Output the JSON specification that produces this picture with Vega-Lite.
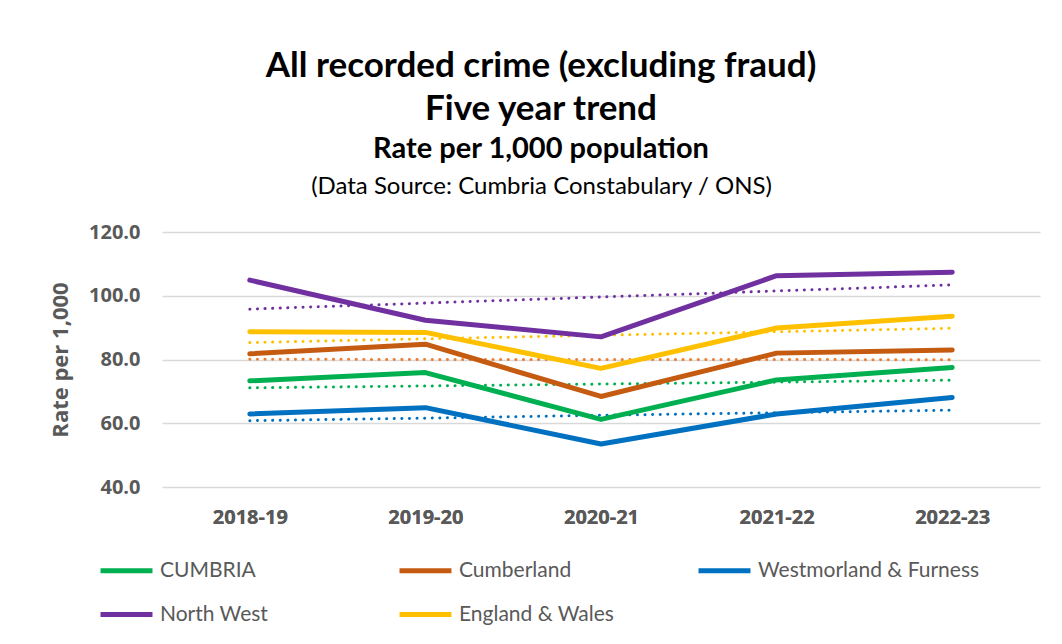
{
  "$schema": "https://vega.github.io/schema/vega-lite/v6.json",
  "autosize": "none",
  "width": 878,
  "height": 255,
  "padding": {"left": 162, "top": 232, "right": 22, "bottom": 157},
  "background": "white",
  "title": {
    "text": ["All recorded crime (excluding fraud)", "Five year trend"],
    "subtitle": "Rate per 1,000 population",
    "anchor": "middle",
    "frame": "group",
    "dx": -60,
    "font": "Lato",
    "fontSize": 35,
    "fontWeight": "bold",
    "color": "#000000",
    "lineHeight": 43,
    "subtitleFont": "Lato",
    "subtitleFontSize": 29,
    "subtitleFontWeight": "bold",
    "subtitleColor": "#000000",
    "subtitlePadding": 8,
    "offset": 10
  },
  "data": {
    "values": [
      {"year": "2018-19", "area": "CUMBRIA", "rate": 73.3, "trend": 71.1},
      {"year": "2019-20", "area": "CUMBRIA", "rate": 75.9, "trend": 71.7},
      {"year": "2020-21", "area": "CUMBRIA", "rate": 61.2, "trend": 72.3},
      {"year": "2021-22", "area": "CUMBRIA", "rate": 73.6, "trend": 72.9},
      {"year": "2022-23", "area": "CUMBRIA", "rate": 77.5, "trend": 73.5},
      {"year": "2018-19", "area": "Cumberland", "rate": 81.8, "trend": 80.1},
      {"year": "2019-20", "area": "Cumberland", "rate": 84.8, "trend": 80.0},
      {"year": "2020-21", "area": "Cumberland", "rate": 68.4, "trend": 80.0},
      {"year": "2021-22", "area": "Cumberland", "rate": 82.0, "trend": 80.0},
      {"year": "2022-23", "area": "Cumberland", "rate": 83.0, "trend": 79.9},
      {"year": "2018-19", "area": "Westmorland & Furness", "rate": 62.9, "trend": 60.8},
      {"year": "2019-20", "area": "Westmorland & Furness", "rate": 64.9, "trend": 61.6},
      {"year": "2020-21", "area": "Westmorland & Furness", "rate": 53.5, "trend": 62.5},
      {"year": "2021-22", "area": "Westmorland & Furness", "rate": 62.9, "trend": 63.3},
      {"year": "2022-23", "area": "Westmorland & Furness", "rate": 68.1, "trend": 64.1},
      {"year": "2018-19", "area": "North West", "rate": 104.9, "trend": 95.8},
      {"year": "2019-20", "area": "North West", "rate": 92.3, "trend": 97.7},
      {"year": "2020-21", "area": "North West", "rate": 87.1, "trend": 99.6},
      {"year": "2021-22", "area": "North West", "rate": 106.3, "trend": 101.5},
      {"year": "2022-23", "area": "North West", "rate": 107.4, "trend": 103.4},
      {"year": "2018-19", "area": "England & Wales", "rate": 88.7, "trend": 85.3},
      {"year": "2019-20", "area": "England & Wales", "rate": 88.5, "trend": 86.5},
      {"year": "2020-21", "area": "England & Wales", "rate": 77.2, "trend": 87.6},
      {"year": "2021-22", "area": "England & Wales", "rate": 89.9, "trend": 88.7},
      {"year": "2022-23", "area": "England & Wales", "rate": 93.6, "trend": 89.8}
    ]
  },
  "encoding": {
    "x": {
      "field": "year",
      "type": "ordinal",
      "scale": {"type": "point", "padding": 0.5},
      "axis": {
        "title": null,
        "labelAngle": 0,
        "labelFont": "Open Sans",
        "labelFontSize": 20,
        "labelFontWeight": "bold",
        "labelColor": "#595959",
        "labelPadding": 20,
        "domain": false,
        "ticks": false,
        "grid": false
      }
    }
  },
  "layer": [
    {
      "mark": {"type": "rule"},
      "encoding": {
        "x": {
          "field": "year",
          "type": "ordinal",
          "axis": {
            "orient": "top",
            "title": "(Data Source: Cumbria Constabulary / ONS)",
            "titleFont": "Lato",
            "titleFontSize": 24,
            "titleFontWeight": "normal",
            "titleColor": "#000000",
            "titlePadding": 34,
            "titleX": 379,
            "labels": false,
            "domain": false,
            "ticks": false,
            "grid": false
          }
        },
        "y": {
          "field": "rate",
          "type": "quantitative",
          "scale": {"domain": [40, 120], "nice": false, "zero": false},
          "axis": {
            "title": "Rate per 1,000",
            "titleFont": "Open Sans",
            "titleFontSize": 22,
            "titleFontWeight": "bold",
            "titleColor": "#595959",
            "titlePadding": 16,
            "values": [40, 60, 80, 100, 120],
            "format": ".1f",
            "labelFont": "Open Sans",
            "labelFontSize": 20,
            "labelFontWeight": "bold",
            "labelColor": "#595959",
            "labelPadding": 22,
            "domain": false,
            "ticks": false,
            "grid": true,
            "gridColor": "#D9D9D9",
            "gridWidth": 1.5
          }
        },
        "opacity": {"value": 0}
      }
    },
    {
      "mark": {"type": "line", "strokeWidth": 3, "strokeDash": [0.1, 7.5], "strokeCap": "round"},
      "encoding": {
        "y": {"field": "trend", "type": "quantitative"},
        "color": {
          "field": "area",
          "type": "nominal",
          "scale": {
            "domain": ["CUMBRIA", "Cumberland", "Westmorland & Furness", "North West", "England & Wales"],
            "range": ["#00B050", "#ED7D31", "#0070C0", "#7030A0", "#FFC000"]
          },
          "legend": null
        },
        "detail": {"field": "area"}
      }
    },
    {
      "mark": {"type": "line", "strokeWidth": 5, "strokeCap": "round", "strokeJoin": "round"},
      "encoding": {
        "y": {"field": "rate", "type": "quantitative"},
        "color": {
          "field": "area",
          "type": "nominal",
          "sort": null,
          "scale": {
            "domain": ["CUMBRIA", "Cumberland", "Westmorland & Furness", "North West", "England & Wales"],
            "range": ["#00B050", "#C55A11", "#0070C0", "#7030A0", "#FFC000"]
          },
          "legend": {
            "title": null,
            "orient": "none",
            "legendX": -64,
            "legendY": 310,
            "direction": "horizontal",
            "columns": 3,
            "gridAlign": "all",
            "columnPadding": 7,
            "rowPadding": 5,
            "symbolType": "stroke",
            "symbolSize": 2700,
            "symbolStrokeWidth": 5,
            "labelFont": "Lato",
            "labelFontSize": 21,
            "labelColor": "#595959",
            "labelOffset": 5,
            "labelLimit": 400
          }
        }
      }
    }
  ],
  "resolve": {"scale": {"color": "independent"}, "axis": {"x": "independent"}},
  "config": {"view": {"stroke": null}}
}
